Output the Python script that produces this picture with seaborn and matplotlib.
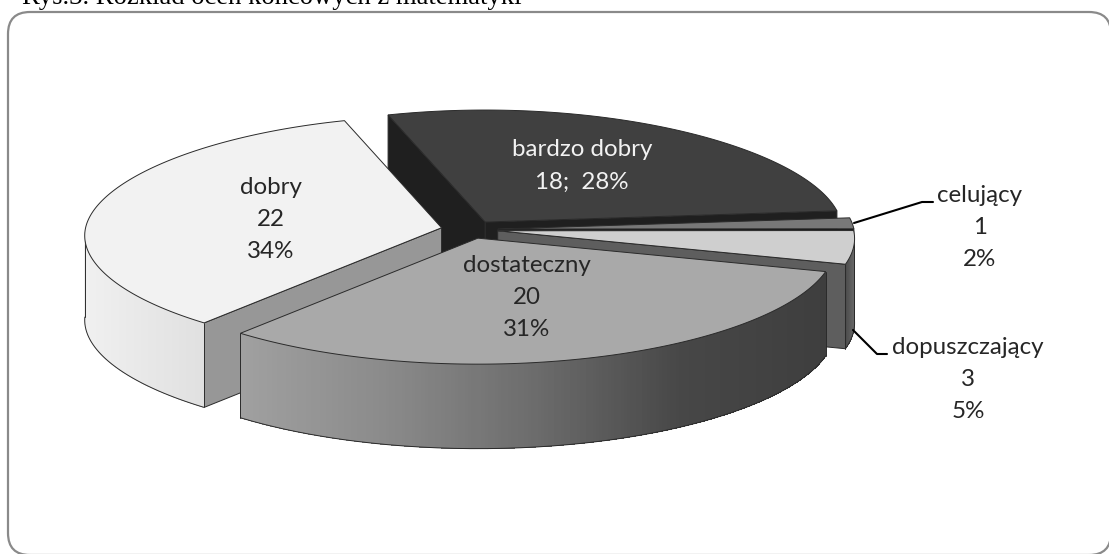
import numpy as np
import matplotlib
matplotlib.use("Agg")
import matplotlib.pyplot as plt
from matplotlib.patches import Polygon, FancyBboxPatch
from matplotlib.collections import PolyCollection
import seaborn as sns

# ---- data ----
categories = ["bardzo dobry", "celujący", "dopuszczający", "dostateczny", "dobry"]
counts = [18, 1, 3, 20, 22]

# ---- style ----
top_colors = ["#404040", "#787878", "#cfcfcf", "#a9a9a9", "#f2f2f2"]
wall_colors = ["#1f1f1f", "#111111", "#5e5e5e", "#777777", "#979797"]
side_colors = [["#333333", "#333333"], ["#666666", "#666666"],
               ["#4c4c4c", "#6a6a6a"],
               ["#a0a0a0", "#8a8a8a", "#6c6c6c", "#474747", "#3e3e3e"],
               ["#f0f0f0", "#e0e0e0"]]
EDGE = "#2a2a2a"
START = -17.0
EXPLODE = 0.08
CX, CY = 469.5, 229.5
RX, RY = 356.0, 112.0
DEPTH = 84.5

sns.set_theme(style="white")
plt.rcParams["font.family"] = ["Lato", "DejaVu Sans"]

fig = plt.figure(figsize=(11.09, 5.54), dpi=100)
ax = fig.add_axes([0, 0, 1, 1])
ax.set_xlim(0, 1109)
ax.set_ylim(554, 0)
ax.axis("off")


def project(clock_deg, r=1.0):
    """Plane direction (clock angle, radius) to screen offset, with mild perspective."""
    a = np.radians(clock_deg)
    X, Y = r * np.sin(a), r * np.cos(a)
    sx = RX * X * (1 - 0.07 * Y)
    ry = RY + 14 * np.where(Y < 0, -Y, 0.0)
    sy = -ry * Y
    return sx, sy


RAD = 22
frame = FancyBboxPatch((8 + RAD, 12 + RAD), 1111 - 8 - 2 * RAD, 555 - 12 - 2 * RAD,
                       boxstyle=f"round,pad={RAD},rounding_size={RAD}",
                       fc="white", ec="#8a8a8a", lw=1.6, zorder=0)
ax.add_patch(frame)

total = sum(counts)
spans = [360.0 * c / total for c in counts]
edges = START + np.concatenate([[0], np.cumsum(spans)])

# painter's order: back slices first
z = 1
for i in [0, 1, 2, 4, 3]:
    a0, a1 = edges[i], edges[i + 1]
    mid = (a0 + a1) / 2
    ox, oy = project(mid, EXPLODE)
    ax0, ay0 = CX + ox, CY + oy
    th = np.linspace(a0, a1, max(8, int((a1 - a0) * 2)))
    px, py = project(th)
    px, py = ax0 + px, ay0 + py

    # radial walls that face the viewer
    for ang, idx in ((a0, 0), (a1, -1)):
        normal = ang - 90 if idx == 0 else ang + 90
        if np.cos(np.radians(normal)) < 0:
            ax.add_patch(Polygon([(ax0, ay0), (px[idx], py[idx]),
                                  (px[idx], py[idx] + DEPTH), (ax0, ay0 + DEPTH)],
                                 closed=True, fc=wall_colors[i], ec=EDGE, lw=0.7, zorder=z))
            z += 1

    # outer curved side: only the front half shows
    front = np.cos(np.radians(th)) < -0.035
    if front.sum() > 1:
        fx, fy = px[front], py[front]
        n = len(fx) - 1
        ramp = sns.blend_palette(side_colors[i], 256)
        xmid = (fx[:-1] + fx[1:]) / 2
        frac = (xmid - fx.min()) / max(fx.max() - fx.min(), 1)
        shades = [ramp[int(f * 255)] for f in frac]
        quads = [[(fx[k], fy[k]), (fx[k + 1], fy[k + 1]),
                  (fx[k + 1], fy[k + 1] + DEPTH), (fx[k], fy[k] + DEPTH)] for k in range(n)]
        ax.add_collection(PolyCollection(quads, facecolors=shades, edgecolors="none",
                                         antialiaseds=False, zorder=z))
        z += 1
        ax.plot(fx, fy + DEPTH, color=EDGE, lw=0.7, zorder=z)
        ax.plot([fx[0], fx[0]], [fy[0], fy[0] + DEPTH], color=EDGE, lw=0.7, zorder=z)
        ax.plot([fx[-1], fx[-1]], [fy[-1], fy[-1] + DEPTH], color=EDGE, lw=0.7, zorder=z)
        z += 1

    # top face
    ax.add_patch(Polygon(np.column_stack([np.r_[ax0, px], np.r_[ay0, py]]), closed=True,
                         fc=top_colors[i], ec=EDGE, lw=0.7, zorder=z))
    z += 1

pct = [f"{round(100 * c / total)}%" for c in counts]
label_text = [
    [categories[0], f"{counts[0]};  {pct[0]}"],
    [categories[1], str(counts[1]), pct[1]],
    [categories[2], str(counts[2]), pct[2]],
    [categories[3], str(counts[3]), pct[3]],
    [categories[4], str(counts[4]), pct[4]],
]
label_pos = [(582, 150), (980, 195), (968, 347), (527, 265), (271, 187)]
label_col = ["#f2f2f2", "#262626", "#262626", "#262626", "#262626"]
LINE = 32.2
for lines, (x, y), col in zip(label_text, label_pos, label_col):
    for k, s in enumerate(lines):
        ax.text(x, y + k * LINE, s, ha="center", va="center", fontsize=17.4,
                color=col, zorder=z + 1)

ax.plot([854, 922, 933], [223, 202, 202], color="black", lw=1.5, zorder=z + 1)
ax.plot([853, 877, 887], [330, 354, 354], color="black", lw=1.5, zorder=z + 1)

ax.text(22, 4, "Rys.3. Rozkład ocen końcowych z matematyki", family="Liberation Serif",
        fontsize=19.2, color="black", ha="left", va="baseline", zorder=z + 1)

fig.savefig("out.png", dpi=100)
